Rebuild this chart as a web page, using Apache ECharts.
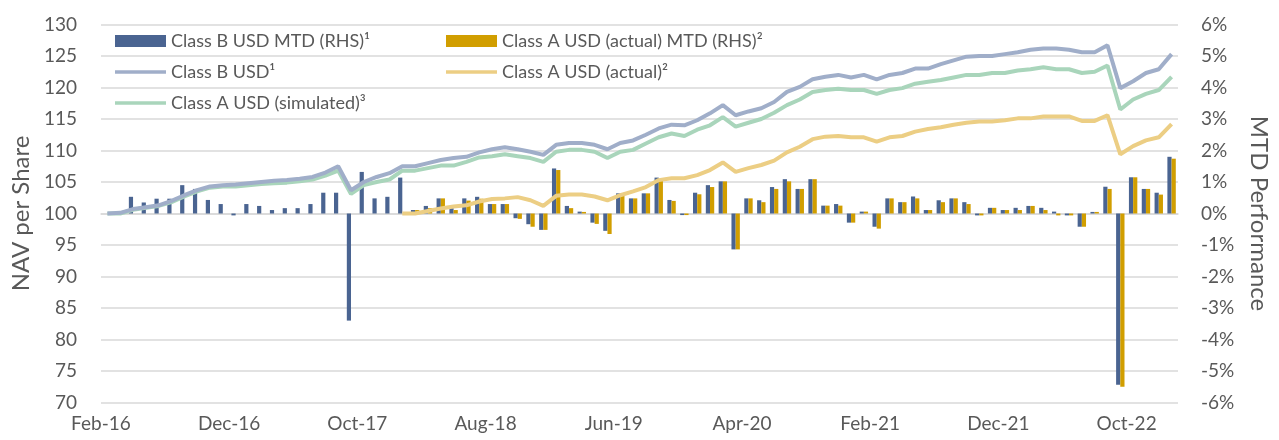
<!DOCTYPE html>
<html>
<head>
<meta charset="utf-8">
<title>NAV per Share</title>
<script src="https://cdn.jsdelivr.net/npm/echarts@6/dist/echarts.min.js"></script>
<style>
	html, body { margin: 0; padding: 0; background: #fff; }
	#chart { width: 1279px; height: 440px; }
</style>
</head>
<body>
<div id="chart"></div>
<script>
// months, Feb-16 .. Jan-23
var months = [
	'Feb-16','Mar-16','Apr-16','May-16','Jun-16','Jul-16','Aug-16','Sep-16','Oct-16','Nov-16','Dec-16',
	'Jan-17','Feb-17','Mar-17','Apr-17','May-17','Jun-17','Jul-17','Aug-17','Sep-17','Oct-17','Nov-17','Dec-17',
	'Jan-18','Feb-18','Mar-18','Apr-18','May-18','Jun-18','Jul-18','Aug-18','Sep-18','Oct-18','Nov-18','Dec-18',
	'Jan-19','Feb-19','Mar-19','Apr-19','May-19','Jun-19','Jul-19','Aug-19','Sep-19','Oct-19','Nov-19','Dec-19',
	'Jan-20','Feb-20','Mar-20','Apr-20','May-20','Jun-20','Jul-20','Aug-20','Sep-20','Oct-20','Nov-20','Dec-20',
	'Jan-21','Feb-21','Mar-21','Apr-21','May-21','Jun-21','Jul-21','Aug-21','Sep-21','Oct-21','Nov-21','Dec-21',
	'Jan-22','Feb-22','Mar-22','Apr-22','May-22','Jun-22','Jul-22','Aug-22','Sep-22','Oct-22','Nov-22','Dec-22',
	'Jan-23'
];

// NAV per share (LHS)
var navClassB = [
	100.0, 100.1, 100.7, 101.0, 101.3, 102.0, 102.9, 103.7, 104.3, 104.5, 104.6,
	104.8, 105.0, 105.2, 105.3, 105.5, 105.8, 106.5, 107.5, 103.7, 105.0, 105.8, 106.4,
	107.5, 107.5, 108.0, 108.5, 108.8, 109.0, 109.7, 110.2, 110.5, 110.2, 109.8, 109.3,
	110.9, 111.2, 111.2, 110.9, 110.2, 111.2, 111.6, 112.5, 113.5, 114.1, 114.0, 114.8,
	115.9, 117.2, 115.6, 116.2, 116.7, 117.7, 119.3, 120.1, 121.3, 121.7, 122.0, 121.6,
	122.0, 121.3, 122.0, 122.3, 123.0, 123.0, 123.7, 124.3, 124.9, 125.0, 125.0, 125.3,
	125.6, 126.0, 126.2, 126.2, 126.0, 125.6, 125.6, 126.7, 119.9, 121.0, 122.3, 122.9,
	125.3
];
var navClassASim = [
	100.0, 100.0, 100.6, 100.9, 101.2, 101.8, 102.7, 103.5, 104.1, 104.3, 104.3,
	104.5, 104.7, 104.8, 104.9, 105.1, 105.4, 106.0, 106.8, 103.1, 104.5, 105.0, 105.4,
	106.8, 106.8, 107.2, 107.6, 107.6, 108.2, 108.9, 109.1, 109.4, 109.1, 108.8, 108.2,
	109.8, 110.1, 110.1, 109.8, 108.8, 109.8, 110.1, 111.1, 112.1, 112.7, 112.3, 113.3,
	114.0, 115.3, 113.8, 114.4, 115.0, 116.0, 117.2, 118.1, 119.3, 119.6, 119.8, 119.6,
	119.6, 119.0, 119.6, 119.9, 120.6, 120.9, 121.2, 121.6, 122.0, 122.0, 122.3, 122.3,
	122.7, 122.9, 123.2, 122.9, 122.9, 122.3, 122.5, 123.5, 116.5, 118.1, 119.0, 119.6,
	121.7
];
var navClassAActual = [
	null, null, null, null, null, null, null, null, null, null, null,
	null, null, null, null, null, null, null, null, null, null, null, null,
	100.0, 100.0, 100.4, 100.8, 101.1, 101.3, 101.9, 102.3, 102.4, 102.6, 102.1, 101.2,
	102.8, 103.0, 103.0, 102.7, 102.1, 102.9, 103.5, 104.2, 105.3, 105.6, 105.6, 106.1,
	106.9, 108.1, 106.6, 107.2, 107.7, 108.4, 109.7, 110.6, 111.8, 112.2, 112.3, 112.1,
	112.1, 111.4, 112.1, 112.3, 113.0, 113.4, 113.7, 114.1, 114.4, 114.6, 114.6, 114.8,
	115.1, 115.1, 115.4, 115.4, 115.4, 114.7, 114.7, 115.6, 109.4, 110.7, 111.6, 112.1,
	114.2
];

// month to date performance in % (RHS)
var mtdClassB = [
	null, 0.06, 0.53, 0.35, 0.47, 0.47, 0.90, 0.78, 0.43, 0.30, -0.06,
	0.30, 0.24, 0.11, 0.17, 0.17, 0.30, 0.66, 0.66, -3.40, 1.32, 0.48, 0.53,
	1.14, 0.11, 0.24, 0.48, 0.17, 0.48, 0.53, 0.30, 0.30, -0.15, -0.34, -0.52,
	1.43, 0.24, 0.06, -0.29, -0.55, 0.64, 0.48, 0.64, 1.14, 0.43, -0.05, 0.66,
	0.90, 1.02, -1.14, 0.48, 0.42, 0.84, 1.09, 0.78, 1.09, 0.25, 0.30, -0.29,
	0.06, -0.42, 0.48, 0.36, 0.54, 0.11, 0.42, 0.48, 0.36, -0.06, 0.18, 0.11,
	0.18, 0.24, 0.18, 0.06, -0.06, -0.42, 0.05, 0.85, -5.44, 1.15, 0.78, 0.66,
	1.80
];
var mtdClassA = [
	null, null, null, null, null, null, null, null, null, null, null,
	null, null, null, null, null, null, null, null, null, null, null, null,
	null, 0.11, 0.17, 0.48, 0.11, 0.41, 0.47, 0.30, 0.30, -0.17, -0.42, -0.52,
	1.38, 0.17, 0.05, -0.33, -0.65, 0.64, 0.48, 0.64, 1.08, 0.40, -0.05, 0.61,
	0.84, 1.02, -1.14, 0.48, 0.36, 0.78, 1.02, 0.78, 1.09, 0.25, 0.25, -0.29,
	0.06, -0.48, 0.48, 0.36, 0.48, 0.11, 0.36, 0.48, 0.30, -0.06, 0.18, 0.11,
	0.11, 0.24, 0.11, -0.06, -0.06, -0.42, 0.05, 0.78, -5.50, 1.15, 0.78, 0.60,
	1.74
];

var FONT = 'Lato, "Open Sans", sans-serif';
var GREY = '#595959';
var BAR_ICON = 'rect';
var LINE_ICON = 'path://M0,0H51V3.5H0Z';  // flat stroke, no marker

var myChart = echarts.init(document.getElementById('chart'));

var legendText = {fontSize: 18, color: GREY, lineHeight: 20, fontFamily: FONT};

var option = {
	animation: false,
	textStyle: {fontFamily: FONT},
	grid: {left: 101, right: 84, top: 24.5, bottom: 37.5},
	legend: [{
		orient: 'vertical',
		left: 110, top: 26,
		itemWidth: 51, itemHeight: 12, itemGap: 11,
		textStyle: legendText,
		data: [
			{name: 'Class B USD MTD (RHS)¹', icon: BAR_ICON},
			{name: 'Class B USD¹', icon: LINE_ICON},
			{name: 'Class A USD (simulated)³', icon: LINE_ICON}
		]
	}, {
		orient: 'vertical',
		left: 441, top: 26,
		itemWidth: 51, itemHeight: 12, itemGap: 11,
		textStyle: legendText,
		data: [
			{name: 'Class A USD (actual) MTD (RHS)²', icon: BAR_ICON},
			{name: 'Class A USD (actual)²', icon: LINE_ICON}
		]
	}],
	xAxis: {
		type: 'category',
		data: months,
		boundaryGap: true,
		axisLine: {lineStyle: {color: '#d9d9d9', width: 1.5}},
		axisTick: {interval: 9, length: 6, lineStyle: {color: '#d9d9d9', width: 1.5}},
		axisLabel: {
			interval: 9, color: GREY, fontSize: 19, margin: 12,
			padding: [0, 13, 0, 0]  // labels sit on the tick, not the month centre
		}
	},
	yAxis: [{
		type: 'value',
		min: 70, max: 130, interval: 5,
		name: 'NAV per Share',
		nameLocation: 'middle',
		nameGap: 67,
		nameTextStyle: {fontSize: 24, color: GREY},
		axisLine: {show: false},
		axisTick: {show: false},
		axisLabel: {color: GREY, fontSize: 19, margin: 24},
		splitLine: {lineStyle: {color: '#d9d9d9', width: 1.5}}
	}, {
		type: 'value',
		position: 'right',
		min: -6, max: 6, interval: 1,
		name: 'MTD Performance',
		nameLocation: 'middle',
		nameRotate: -90,
		nameGap: 69,
		nameTextStyle: {fontSize: 24, color: GREY},
		axisLine: {show: false},
		axisTick: {show: false},
		axisLabel: {color: GREY, fontSize: 19, margin: 23, formatter: '{value}%'},
		splitLine: {show: false}
	}],
	series: [{
		name: 'Class B USD MTD (RHS)¹',
		type: 'bar',
		yAxisIndex: 1,
		data: mtdClassB,
		barWidth: 4.2,
		barGap: '0%',
		itemStyle: {color: '#4a6491'}
	}, {
		name: 'Class A USD (actual) MTD (RHS)²',
		type: 'bar',
		yAxisIndex: 1,
		data: mtdClassA,
		barWidth: 4.2,
		itemStyle: {color: '#d19e00'}
	}, {
		name: 'Class A USD (simulated)³',
		type: 'line',
		data: navClassASim,
		symbol: 'none',
		lineStyle: {color: '#a9d5bb', width: 4},
		itemStyle: {color: '#a9d5bb'}
	}, {
		name: 'Class A USD (actual)²',
		type: 'line',
		data: navClassAActual,
		symbol: 'none',
		lineStyle: {color: '#ecce84', width: 4},
		itemStyle: {color: '#ecce84'}
	}, {
		name: 'Class B USD¹',
		type: 'line',
		data: navClassB,
		symbol: 'none',
		lineStyle: {color: '#a0aec9', width: 4},
		itemStyle: {color: '#a0aec9'}
	}]
};

myChart.setOption(option);

window.onresize = function() {
	myChart.resize();
};
</script>
</body>
</html>
